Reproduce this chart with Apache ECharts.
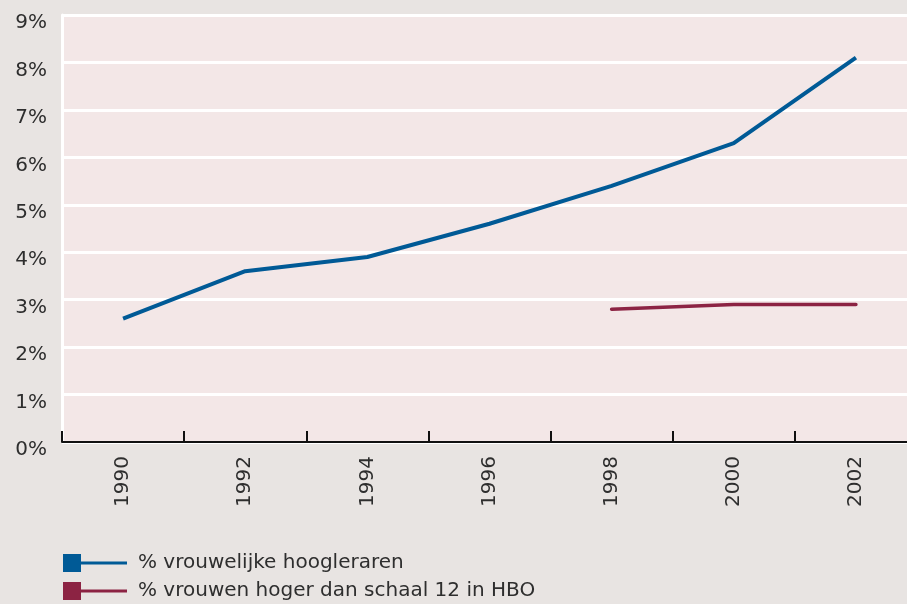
<!DOCTYPE html>
<html lang="nl">
<head>
    <meta charset="UTF-8">
    <title>Vrouwelijke hoogleraren</title>
    <script src="https://cdn.jsdelivr.net/npm/echarts@6.0.0/dist/echarts.min.js"></script>
    <style>
        html, body { margin: 0; padding: 0; background: #e8e4e2; }
        #chart { width: 907px; height: 604px; }
    </style>
</head>
<body>
    <div id="chart"></div>
    <script>
        // data
        const years = ['1990', '1992', '1994', '1996', '1998', '2000', '2002'];
        const hoogleraren = [2.6, 3.6, 3.9, 4.6, 5.4, 6.3, 8.1];
        const hboSchaal12 = [null, null, null, null, 2.8, 2.9, 2.9];
        const seriesNames = ['% vrouwelijke hoogleraren', '% vrouwen hoger dan schaal 12 in HBO'];

        const textColor = '#2e2e2e';
        const font = 'DejaVu Sans';

        const chart = echarts.init(document.getElementById('chart'));
        chart.setOption({
            backgroundColor: '#e8e4e2',
            animation: false,
            grid: {
                left: 62,
                right: -10,
                top: 15,
                bottom: 162,
                outerBoundsMode: 'none',
                containLabel: false,
                show: true,
                backgroundColor: '#f3e7e7',
                borderWidth: 0
            },
            legend: {
                orient: 'vertical',
                left: 63,
                top: 553,
                padding: 0,
                itemGap: 8,
                itemWidth: 64,
                itemHeight: 18,
                icon: 'path://M0,0H18V18H0Z M18,7.5H64V10.5H18Z',
                itemStyle: { borderWidth: 0 },
                textStyle: {
                    fontFamily: font,
                    fontSize: 20,
                    color: textColor,
                    padding: [0, 0, 0, 6]
                },
                data: seriesNames
            },
            xAxis: {
                type: 'category',
                data: years,
                boundaryGap: true,
                axisLine: { lineStyle: { color: '#111', width: 2 } },
                axisTick: {
                    show: true,
                    inside: true,
                    length: 11,
                    interval: 0,
                    lineStyle: { color: '#111', width: 2 }
                },
                axisLabel: {
                    rotate: 90,
                    margin: 14,
                    interval: 0,
                    fontFamily: font,
                    fontSize: 20,
                    color: textColor
                },
                splitLine: { show: false }
            },
            yAxis: {
                type: 'value',
                min: 0,
                max: 9,
                interval: 1,
                axisLine: { show: true, lineStyle: { color: '#ffffff', width: 3 } },
                axisTick: { show: false },
                axisLabel: {
                    formatter: '{value}%',
                    margin: 15,
                    verticalAlign: 'top',
                    padding: [-2, 0, 0, 0],
                    fontFamily: font,
                    fontSize: 20,
                    color: textColor
                },
                splitLine: { lineStyle: { color: '#ffffff', width: 3 } }
            },
            series: [{
                name: seriesNames[0],
                type: 'line',
                data: hoogleraren,
                symbol: 'none',
                color: '#005a96',
                lineStyle: { width: 4, color: '#005a96' }
            }, {
                name: seriesNames[1],
                type: 'line',
                data: hboSchaal12,
                symbol: 'none',
                color: '#8c2343',
                lineStyle: { width: 3.5, color: '#8c2343', cap: 'round' }
            }]
        });
    </script>
</body>
</html>
